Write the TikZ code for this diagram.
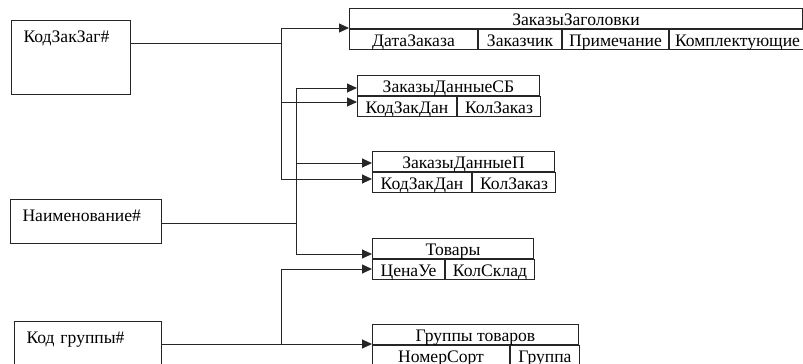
\documentclass[tikz,border=0pt]{standalone}
\usepackage{fontspec}
\setmainfont{Liberation Serif}
\usetikzlibrary{arrows.meta}

\tikzset{
	tabhead/.style={draw, anchor=north west, minimum height=20pt, inner sep=0pt, text height=15.5pt, text depth=2.5pt, text=black, font=\fontsize{17.6}{19}\selectfont},
	tabcell/.style={tabhead},
	keybox/.style={draw, anchor=north west, inner xsep=12pt, inner ysep=0pt, text height=22pt, align=left, text=black, font=\fontsize{17.6}{19}\selectfont},
	link/.style={-{Triangle[length=10pt,width=9pt]}},
}

\begin{document}
\begin{tikzpicture}[x=1pt, y=-1pt, line width=1pt, color=black!85]
			%%%%% START %%%%%
			\clip (0, 0) rectangle (803, 364);
			
			% key fields
			\node[keybox, text width=95pt, text depth=52pt] (kzz) at (11, 20) {КодЗакЗаг\#};
			\node[keybox, text width=127pt, text depth=22pt] (naim) at (10, 199) {Наименование\#};
			\node[keybox, text width=123pt, text depth=52pt] (kgr) at (14, 321) {Код группы\#};
			
			% tables
			\node[tabhead, minimum width=453pt] (zz) at (349, 8) {ЗаказыЗаголовки};
			\node[tabcell, minimum width=128pt] (zz1) at (zz.south west) {ДатаЗаказа};
			\node[tabcell, minimum width=83pt] (zz2) at (zz1.north east) {Заказчик};
			\node[tabcell, minimum width=106pt] (zz3) at (zz2.north east) {Примечание};
			\node[tabcell, minimum width=136pt] (zz4) at (zz3.north east) {Комплектующие};
			
			\node[tabhead, minimum width=182pt] (sb) at (357, 75) {ЗаказыДанныеСБ};
			\node[tabcell, minimum width=99pt] (sb1) at (sb.south west) {КодЗакДан};
			\node[tabcell, minimum width=83pt] (sb2) at (sb1.north east) {КолЗаказ};
			
			\node[tabhead, minimum width=182pt] (dp) at (372, 151) {ЗаказыДанныеП};
			\node[tabcell, minimum width=99pt] (dp1) at (dp.south west) {КодЗакДан};
			\node[tabcell, minimum width=83pt] (dp2) at (dp1.north east) {КолЗаказ};
			
			\node[tabhead, minimum width=161pt] (tv) at (372, 238) {Товары};
			\node[tabcell, minimum width=72pt] (tv1) at (tv.south west) {ЦенаУе};
			\node[tabcell, minimum width=89pt] (tv2) at (tv1.north east) {КолСклад};
			
			\node[tabhead, minimum width=206pt] (gt) at (372, 324) {Группы товаров};
			\node[tabcell, minimum width=137pt] (gt1) at (gt.south west) {НомерСорт};
			\node[tabcell, minimum width=69pt] (gt2) at (gt1.north east) {Группа};
			
			% bus A (КодЗакЗаг#)
			\coordinate (a0) at (281, 43);
			\coordinate (a1) at (281, 28);
			\coordinate (a2) at (281, 102);
			\coordinate (a3) at (281, 179);
			\draw (kzz.east |- a0) -- (a0);
			\draw (a1) -- (a3);
			\draw[link] (a1) -- (zz.west |- a1);
			\draw[link] (a2) -- (sb.west |- a2);
			\draw[link] (a3) -- (dp.west |- a3);
			
			% bus B (Наименование#)
			\coordinate (b0) at (296, 223);
			\coordinate (b1) at (296, 88);
			\coordinate (b2) at (296, 163);
			\coordinate (b3) at (296, 254);
			\draw (naim.east |- b0) -- (b0);
			\draw (b1) -- (b3);
			\draw[link] (b1) -- (sb.west |- b1);
			\draw[link] (b2) -- (dp.west |- b2);
			\draw[link] (b3) -- (tv.west |- b3);
			
			% bus C (Код группы#)
			\coordinate (c0) at (281, 344);
			\coordinate (c1) at (281, 269);
			\draw[link] (kgr.east |- c0) -- (gt.west |- c0);
			\draw[link] (c0) -- (c1) -- (tv.west |- c1);
			
			%%%%% END %%%%%
\end{tikzpicture}
\end{document}
